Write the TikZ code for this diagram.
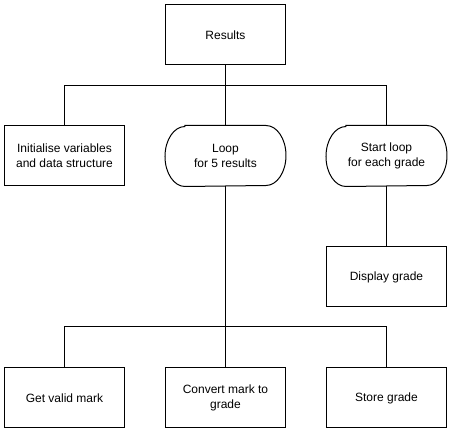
\documentclass[tikz,border=0pt]{standalone}
\usepackage{fontspec}
\setmainfont{Liberation Sans}
\usetikzlibrary{positioning}

\tikzset{
  box/.style={draw, line width=0.75pt, minimum width=90pt, minimum height=45pt,
    inner sep=0pt, align=center, font=\fontsize{9}{11}\selectfont},
  stadium/.style={box, draw=none},
  link/.style={line width=0.75pt},
}

% outline with elliptic ends for the loop nodes
\newcommand{\stadiumline}[1]{%
  \draw[link] ([xshift=15pt]#1.north west) -- ([xshift=-15pt]#1.north east)
    arc[start angle=90, end angle=-90, x radius=15pt, y radius=22.5pt]
    -- ([xshift=15pt]#1.south west)
    arc[start angle=270, end angle=90, x radius=15pt, y radius=22.5pt] -- cycle;}

\begin{document}
\begin{tikzpicture}
    \useasboundingbox (-169.125pt,26.25pt) rectangle (169.125pt,-297pt);

    \node[box] (results) at (0,0) {Results};

    \node[stadium, below=45pt of results] (loop) {Loop\\for 5 results};
    \node[box, left=30pt of loop] (init) {Initialise variables\\and data structure};
    \node[stadium, right=30pt of loop] (start) {Start loop\\for each grade};
    \stadiumline{loop}
    \stadiumline{start}

    \node[box, below=45pt of start] (display) {Display grade};

    \node[box, below=45pt of display] (store) {Store grade};
    \node[box, left=30pt of store] (convert) {Convert mark to\\grade};
    \node[box, left=30pt of convert] (getmark) {Get valid mark};

    \coordinate[below=15pt of results.south] (topsplit);
    \coordinate[below=105pt of loop.south] (loopsplit);

    \draw[link] (results.south) -- (loop.north);
    \draw[link] (topsplit) -| (init.north);
    \draw[link] (topsplit) -| (start.north);
    \draw[link] (start.south) -- (display.north);

    \draw[link] (loop.south) -- (convert.north);
    \draw[link] (loopsplit) -| (getmark.north);
    \draw[link] (loopsplit) -| (store.north);

\end{tikzpicture}
\end{document}
